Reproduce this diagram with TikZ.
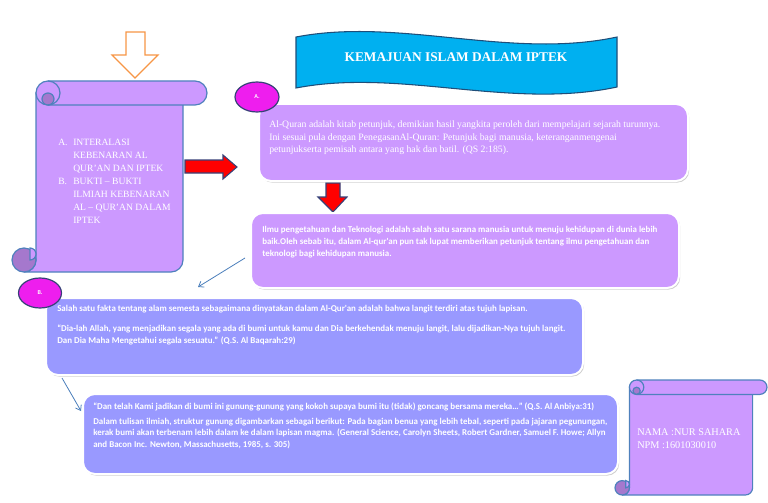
\documentclass[tikz,border=0pt]{standalone}
\usepackage{fontspec}
\setmainfont{Liberation Serif}
\newfontfamily\calib{Carlito}
\usepackage{tikz}
\usetikzlibrary{calc,shapes.geometric,shadows,arrows.meta}

\definecolor{lilac}{RGB}{204,153,255}
\definecolor{periwink}{RGB}{153,153,255}
\definecolor{scrollline}{RGB}{79,129,189}
\definecolor{curl}{RGB}{165,120,205}
\definecolor{bannerblue}{RGB}{0,176,240}
\definecolor{bannerline}{RGB}{31,78,121}
\definecolor{magentaA}{RGB}{238,30,238}
\definecolor{darkrim}{RGB}{55,65,120}
\definecolor{arroworange}{RGB}{247,150,70}
\definecolor{linkblue}{RGB}{74,126,187}

\newcommand{\pxu}{0.75pt}
% vertical scroll: x0, y0, x1, y1, roll size
\newcommand{\vscroll}[5]{%
  \pgfmathsetmacro\scL{#1+#5}
  \pgfmathsetmacro\scR{#3-#5}
  \pgfmathsetmacro\scH{#5/2}
  \pgfmathsetmacro\scQ{#5/4}
  \pgfmathsetmacro\scM{#2+#5/2}
  \pgfmathsetmacro\scB{#2+#5}
  \pgfmathsetmacro\scCx{#1+#5/2}
  \pgfmathsetmacro\scCy{#4-#5/2}
  \filldraw[scrollpaper] (\scL,\scM) -- (\scL,\scCy) arc (0:90:\scH) -- ({\scR-\scH},#4) arc (90:0:\scH) -- (\scR,\scM) -- cycle;
  \filldraw[scrollpaper, fill=curl] (\scCx,\scCy) circle (\scH);
  \filldraw[scrollpaper] ({\scCx+\scQ},{\scCy-\scH}) arc (270:450:\scQ) -- cycle;
  \filldraw[scrollpaper] ({\scL+\scH},#2) -- ({#3-\scH},#2) arc (270:450:\scH) -- ({\scL+\scH},\scB) arc (90:270:\scH) -- cycle;
  \filldraw[scrollpaper, fill=curl] ({\scL+\scH},{\scM+\scQ}) circle (\scQ);
  \draw[scrollpaper, fill=none] ({\scL+\scH},\scB) arc (90:-90:\scH);
}

\tikzset{
  scrollpaper/.style={draw=scrollline, fill=lilac, line width=0.9pt},
  card/.style={rectangle, draw=white, line width=1.5pt, rounded corners=9pt, anchor=north west, inner sep=0pt,
    drop shadow={shadow xshift=0.9pt, shadow yshift=-1.2pt, fill=black!40}},
  tag/.style={ellipse, draw=darkrim, fill=magentaA, line width=0.9pt, text=white, inner sep=0pt,
    font=\calib\bfseries\fontsize{4.5}{5}\selectfont},
  seriftext/.style={anchor=north west, inner sep=0pt, align=left, text=white, font=\fontsize{7.3}{9.4}\selectfont},
  calibtext/.style={anchor=north west, inner sep=0pt, align=left, text=white, font=\calib\bfseries\fontsize{6.7}{8.8}\selectfont},
  blockred/.style={fill=red, draw=darkrim, line width=0.8pt},
  link/.style={draw=linkblue, line width=0.6pt, -{Straight Barb[length=3.5pt,width=5pt]}},
}

\begin{document}
\begin{tikzpicture}[x=0.75pt, y=-0.75pt]
  \useasboundingbox (0,0) rectangle (768,503);

  % hollow arrow on top
  \draw[arroworange, fill=white, line width=0.9pt] (126,32) -- (145,32) -- (145,55) -- (158,55) -- (135,78) -- (112,55) -- (126,55) -- cycle;

  % left scroll
  \vscroll{12}{81}{207}{272}{24}
  \node[seriftext, font=\fontsize{7.2}{9.75}\selectfont] (menu) at (58,138.5)
    {\makebox[11.25pt][l]{A.}INTERALASI\\ \hspace*{11.25pt}KEBENARAN AL\\ \hspace*{11.25pt}QUR'AN DAN IPTEK\\
     \makebox[11.25pt][l]{B.}BUKTI -- BUKTI\\ \hspace*{11.25pt}ILMIAH KEBENARAN\\ \hspace*{11.25pt}AL -- QUR'AN DALAM\\ \hspace*{11.25pt}IPTEK};

  % red block arrows
  \filldraw[blockred] (185,160) -- (223,160) -- (223,155) -- (237,167) -- (223,179) -- (223,173) -- (185,173) -- cycle;
  \filldraw[blockred] (326,183) -- (340,183) -- (340,197) -- (347,197) -- (333,212) -- (318,197) -- (326,197) -- cycle;

  % title banner
  \filldraw[fill=bannerblue, draw=bannerline, line width=0.8pt] (296,37) .. controls (400,17) and (510,60) .. (617,37)
    -- (617,87) .. controls (510,110) and (400,68) .. (296,88) -- cycle;
  \node[text=white, font=\bfseries\fontsize{10}{12}\selectfont] (title) at (456,57) {KEMAJUAN ISLAM DALAM IPTEK};

  % A
  \node[card, fill=lilac, minimum width=429*\pxu, minimum height=77*\pxu] (quran) at (258,103) {};
  \node[tag, minimum width=44*\pxu, minimum height=30*\pxu] (tagA) at (257,97) {A.};
  \node[seriftext] (qurantext) at (269,120.5)
    {Al-Quran adalah kitab petunjuk, demikian hasil yangkita peroleh dari mempelajari sejarah turunnya.\\
     Ini sesuai pula dengan PenegasanAl-Quran: Petunjuk bagi manusia, keteranganmengenai\\
     petunjukserta pemisah antara yang hak dan batil. (QS 2:185).};

  % ilmu
  \node[card, fill=lilac, minimum width=428*\pxu, minimum height=75*\pxu] (ilmu) at (250,212) {};
  \node[calibtext] (ilmutext) at (262,226.3)
    {Ilmu pengetahuan dan Teknologi adalah salah satu sarana manusia untuk menuju kehidupan di dunia lebih\\
     baik.Oleh sebab itu, dalam Al-qur'an pun tak lupat memberikan petunjuk tentang ilmu pengetahuan dan\\
     teknologi bagi kehidupan manusia.};

  % B
  \node[card, fill=periwink, minimum width=537*\pxu, minimum height=77*\pxu] (langit) at (45,297) {};
  \node[tag, minimum width=43*\pxu, minimum height=30*\pxu] (tagB) at (40,293) {B.};
  \node[calibtext] (langittext) at (57,304.6)
    {Salah satu fakta tentang alam semesta sebagaimana dinyatakan dalam Al-Qur'an adalah bahwa langit terdiri atas tujuh lapisan.\\[6.5pt]
     “Dia-lah Allah, yang menjadikan segala yang ada di bumi untuk kamu dan Dia berkehendak menuju langit, lalu dijadikan-Nya tujuh langit.\\
     Dan Dia Maha Mengetahui segala sesuatu.” (Q.S. Al Baqarah:29)};

  % gunung
  \node[card, fill=periwink, minimum width=535*\pxu, minimum height=80*\pxu] (gunung) at (82,393) {};
  \node[calibtext] (gunungtext) at (93,402.3)
    {“Dan telah Kami jadikan di bumi ini gunung-gunung yang kokoh supaya bumi itu (tidak) goncang bersama mereka…” (Q.S. Al Anbiya:31)\\[2.5pt]
     Dalam tulisan ilmiah, struktur gunung digambarkan sebagai berikut: Pada bagian benua yang lebih tebal, seperti pada jajaran pegunungan,\\
     kerak bumi akan terbenam lebih dalam ke dalam lapisan magma. (General Science, Carolyn Sheets, Robert Gardner, Samuel F. Howe; Allyn\\
     and Bacon Inc. Newton, Massachusetts, 1985, s. 305)};

  % connectors
  \coordinate (toB) at (198,287);
  \coordinate (toGunung) at (81,411);
  \draw[link] ([shift={(-5,7.5)}]ilmu.west) -- (toB);
  \draw[link] ([shift={(17,2)}]langit.south west) -- (toGunung);

  % name scroll
  \vscroll{615}{380}{767}{495}{14.4}
  \node[seriftext, font=\fontsize{7.7}{10}\selectfont] (nama) at (637,428.5)
    {NAMA :NUR SAHARA\\ NPM :1601030010};
\end{tikzpicture}
\end{document}
